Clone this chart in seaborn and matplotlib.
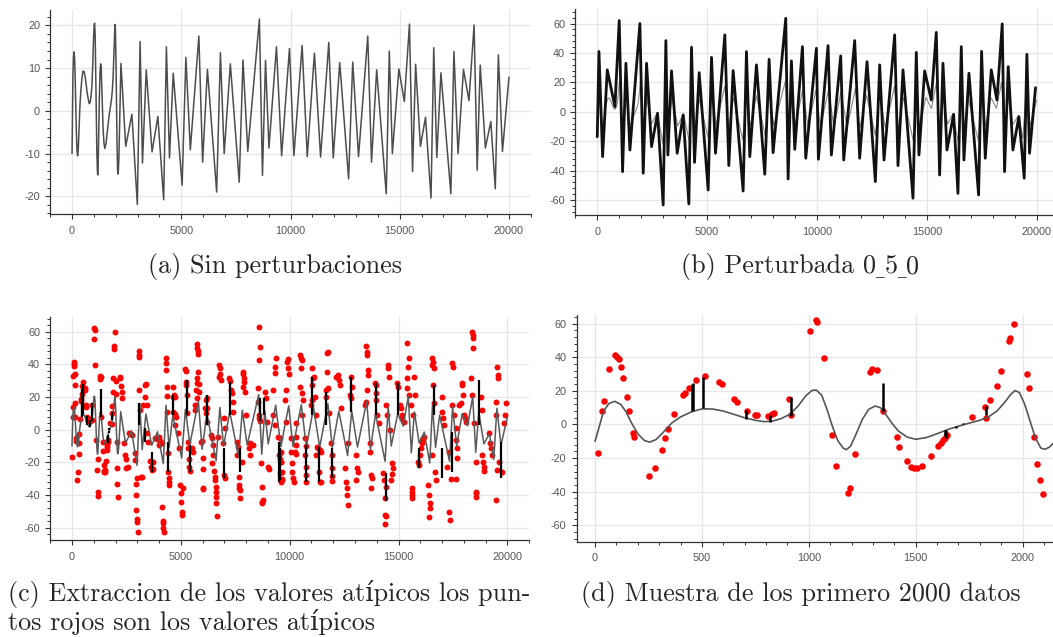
import matplotlib
matplotlib.use("Agg")
import matplotlib.pyplot as plt
import seaborn as sns
from matplotlib.ticker import MultipleLocator

sig_x = [0, 20, 40, 65, 92, 120, 145, 170, 200, 230, 255, 285, 320, 360, 400, 450, 500, 550, 600, 650,
         700, 750, 790, 830, 870, 910, 950, 985, 1015, 1035, 1060, 1085, 1110, 1135, 1160, 1175, 1195, 1220, 1250, 1280,
         1310, 1335, 1360, 1390, 1420, 1460, 1500, 1550, 1600, 1650, 1700, 1750, 1800, 1840, 1880, 1915, 1945, 1965, 1985, 2010,
         2035, 2060, 2085, 2105, 2125, 2145,
         2238, 2457, 2739, 2989, 3114, 3224, 3396, 3662, 3928, 4194, 4319, 4460, 4632, 5039, 5211, 5414, 5805, 5977, 6197, 6620,
         6792, 6964, 7246, 7653, 7825, 8044, 8576, 8716, 8857, 9013, 9358, 9593, 9953, 10156, 10532, 10767, 11095, 11377, 11753, 11956,
         12254, 12660, 12848, 13114, 13537, 13709, 13944, 14382, 14523, 14664, 14961, 15211, 15446, 15587, 15728, 15947, 16181, 16432, 16557, 16698,
         16886, 17340, 17481, 17669, 17919, 18169, 18404, 18545, 18685, 18920, 19170, 19374, 19515, 19703, 20000]
sig_y = [-10, -1, 8, 12.5, 13.8, 12, 7.5, 1, -5.5, -9.5, -10.5, -9, -4.5, 1, 4.5, 7.5, 9.3, 9.2, 8, 6,
         4, 2.5, 1.7, 2, 3.5, 6, 11, 17, 20.3, 20.5, 17.5, 9, -1, -9.5, -14, -15, -13, -6, 3, 9,
         11, 10, 6, 0.5, -4, -7.5, -8.8, -7.8, -5.5, -3, -1, 0.8, 2.5, 4.5, 8, 13, 18, 20.2, 19, 12,
         2, -8, -14, -14.8, -13.5, -11,
         11.1, -8.3, -0.8, -21.9, 16.2, -12.2, 9.6, -9.6, -1.3, -20.8, 15, -11, 8.8, -17.4, 12.5, -9.1, 17.5, -12, 9.7, -19,
         13.6, -10, 11, -16.7, 11.9, -9.5, 21.5, -15.1, 11.8, -8.7, 15, -10.5, 14.6, -10.5, 15.3, -10.7, 13.5, -10.8, 16, -11,
         11.3, -15.9, 11.4, -10.7, 17.5, -12, 9.6, -19.4, 14, -10, 9.8, 2.2, 20.3, -14.2, 10.9, -8.3, -1.5, -20.4, 14.8, -10.9,
         8.9, -19.4, 13.9, -10, 9.7, 2.4, 20.1, -13.9, 10.7, -8.7, -2.5, -18.2, 13.1, -9.5, 7.9]

# --- perturbed series (panel b), extrema of the black band
pert_x = [0, 76, 243, 455, 803, 1000, 1152, 1304, 1486, 1940, 2092, 2244, 2471, 2744, 3000, 3123, 3214, 3380, 3638, 3911,
          4169, 4290, 4427, 4639, 5048, 5200, 5382, 5806, 5988, 6185, 6640, 6791, 6943, 7246, 7625, 7822, 8004, 8580, 8687, 8838,
          8990, 9339, 9490, 9975, 10066, 10506, 10657, 11081, 11218, 11718, 11945, 12280, 12658, 12855, 13053, 13537, 13689, 13917, 14372, 14523,
          14644, 14902, 15205, 15432, 15584, 15736, 15918, 16221, 16418, 16570, 16691, 16918, 17358, 17494, 17661, 17934, 18192, 18434, 18540, 18707,
          18920, 19193, 19435, 19556, 19677, 19950]
pert_y = [-17, 41, -30.5, 28.5, 3.5, 62, -40.7, 33, -26, 60, -41.8, 33, -23.7, -1, -63.4, 48.4, -29.4, 27.8, -28.2, -2.2,
          -62.7, 43.9, -34.4, 26.6, -53.2, 37, -28.2, 52.3, -36.6, 28, -53.9, 40.9, -30.5, 31.9, -42.5, 35.7, -27.8, 63.6, -45.7, 34.6,
          -25.5, 44.3, -31.6, 43.2, -32.3, 45, -29.4, 38, -32.8, 48.4, -31.6, 34.1, -47.5, 31.9, -32.8, 52.3, -36.6, 28.5, -58.8, 40.4,
          -29.4, 27.8, 8, 54, -43, 33, -26, -1.7, -55.5, 44.3, -32.8, 26.2, -56.6, 41.1, -31.6, 28.5, 8, 59.8, -40.7, 30.7,
          -26, -3.3, -45.2, 39.1, -28.2, 16.4]

# --- perturbations kept (black spikes): x, from, to
spike_x = [452, 460, 507, 706, 820, 915, 1345, 1637, 1643, 1688, 1723, 1829,
           3093, 3368, 3690, 4425, 4654, 5267, 5420, 6185, 6982, 7257, 7716, 8635, 8820, 9554,
           9510, 10735, 11041, 11347, 11684, 11960, 12802, 13950, 14409, 14991, 15940, 16629, 17012, 17471, 18696, 19690]
spike_y0 = [8, 8.5, 9.6, 3, 1.7, 5.3, 8, -3, -3, -1, 0, 5.7,
            2.9, 0.8, -13.4, -7.3, 9, 9, -9.4, 2.9, -11.4, 9, -11.4, 5, 9, -11.4,
            -7.3, -9.4, 9, -10.4, 2.9, -11.4, 11, 9, -26.7, 9, -11.4, 9, -11.4, -1.2, 2.9, -7.3]
spike_y1 = [24, 25, 28, 8.6, 5.7, 16.6, 25, -7, -8, -1.8, 0.8, 11,
            16.2, -7.3, -25.7, -25.7, 21.2, 30.4, -25.7, 21.2, -29.8, 29.4, -25.7, 19.2, 19.2, -30.8,
            -31.8, -31.8, 32.5, -31.8, 23.3, -29.8, 32.5, 28.4, -44, 28.4, -23.6, 27.4, -29.8, -25.7, 30.4, -29.8]

# --- outliers (red points), (x, y)
outliers = [
    (12, -17), (34, 7.8), (41, 13.8), (65, 32.8), (95, 41.2), (104, 40), (111, 38.8), (120, 34.4), (131, 27.5), (148, 16.2),
    (159, 7.8), (178, -4.9), (181, -7.2), (253, -30.7), (281, -26.1), (312, -15), (329, -8.2), (343, -2.7), (369, 6.4), (413, 17.4),
    (419, 18.6), (440, 21.9), (474, 26.5), (516, 28.9), (582, 25.5), (592, 24.1), (652, 15.2), (663, 13.6), (711, 8), (750, 5.7),
    (759, 5.5), (808, 5.3), (828, 6), (839, 6.6), (909, 15.2), (917, 5.7), (1006, 55.5), (1032, 62), (1040, 61), (1069, 39.8),
    (1108, -6.1), (1127, -24.5), (1185, -40.8), (1193, -38), (1218, -17.8), (1286, 31.2), (1297, 33), (1317, 32.4), (1345, 8), (1411, -7.6),
    (1423, -13.2), (1458, -21.9), (1478, -25.1), (1492, -26.1), (1504, -26.1), (1528, -24.7), (1571, -18.9), (1604, -12.6), (1617, -10.8), (1626, -9.2),
    (1635, -7.8), (1645, -6.4), (1765, 4.3), (1822, 10.4), (1830, 3.7), (1847, 14.6), (1879, 22.9), (1900, 31.8), (1936, 49.7), (1943, 51.3),
    (1961, 59.6), (2020, 30), (2028, 21.7), (2053, -7.4), (2069, -23.7), (2081, -33), (2097, -41.2),
    (2205, 32.5), (2220, 31.5), (2251, 26.8), (2297, 22.9), (2320, 19.2), (2389, -8.3), (2450, -15.5), (2480, -18), (2572, -22.6), (2465, -23.6),
    (2633, -2.2), (2695, -2.6), (2741, -3.2), (2878, -14.5), (2894, -18.5), (2940, -33.4), (2945, -40), (2950, -49.2), (2970, -54.7), (3001, -56.7),
    (3010, -62.4), (3000, -29.4), (3062, 48.2), (3093, 45.7), (3095, 44.7), (3062, 24.3), (3123, 12), (3185, -28.8), (3215, -28.8), (3338, 27.4),
    (3399, 27.8), (3368, 20.2), (3430, 15.1), (3246, 15.1), (3460, -2.2), (3506, -7.3), (3583, -19.2), (3613, -22.6), (3675, -24.7), (3705, -19.6),
    (3736, -24), (3797, -4.9), (3889, -5.7), (3920, -4.9), (3981, -4.3), (4042, -6.9), (4011, -9.4), (4149, -47.1), (4164, -55.9), (4180, -57.3),
    (4195, -60), (4226, -62.4), (4134, -8.3), (4302, 43.7), (4318, 41), (4318, 36.6), (4348, 26.3), (4363, 20.6), (4348, 11), (4425, -14.5),
    (4425, -25.7), (4471, -29.8), (4471, -31.8), (4455, -33.8), (4624, 26.3), (4685, 21.2), (4654, 20.2), (4731, 20.2), (4654, 11), (4746, 9.4),
    (4777, 8), (4731, 2.9), (4884, -2.2), (4930, -11.4), (4961, -34), (4991, -39), (5007, -44.5), (5037, -50.2), (5052, -52.2), (5114, -35.9),
    (5206, 37.2), (5221, 36), (5236, 29.4), (5221, 27.4), (5267, 10), (5282, 21.2), (5343, -7.3), (5343, -11.4), (5389, -18), (5359, -22.6),
    (5420, -25.3), (5496, -11.4), (5542, -13.4), (5726, 52.3), (5757, 49.8), (5803, 48.2), (5803, 46.1), (5772, 35.5), (5726, 31.5), (5757, 28.4),
    (5695, 24.3), (5726, 19.2), (5665, 15.1), (5634, 12), (5849, 27.8), (5818, 23.3), (5956, -6.9), (6002, -17.5), (6033, -24), (6002, -35.5),
    (6033, -36.3), (5910, -7.3), (6124, 13.5), (6185, 13.1), (6155, 10), (6216, 4.9), (6185, 19.2), (6155, 18.2), (6369, -3.2), (6415, -5.3),
    (6461, -9.4), (6461, -15.5), (6415, -20.6), (6522, -25.3), (6568, -28.8), (6583, -30.8), (6599, -34.9), (6614, -38), (6614, -41), (6614, -45.1),
    (6645, -53.2), (6737, 39.6), (6783, 37.6), (6798, 33.9), (6767, 32.5), (6828, 30.4), (6706, -4.3), (6982, 7), (7027, 0.8), (6951, -8.3),
    (6982, -27.7), (7012, -29.8), (7226, 31.9), (7257, 29.8), (7303, 24.3), (7333, 22.3), (7380, 17.2), (7410, 11), (7563, -7.3), (7640, -10.4),
    (7594, -15.5), (7655, -33.8), (7686, -35.9), (7716, -36.9), (7716, -42), (7655, -28.8), (7793, -19.6), (7839, 35.5), (7870, 33.9), (7885, 31.5),
    (7900, 29.4), (7839, 26.3), (7961, 22.9), (7992, 9), (8114, -11.4), (8176, -8.3), (8176, -15.5), (8298, -9.4), (8604, 63.1), (8635, 50.4),
    (8574, 42.7), (8543, 25.7), (8558, 16.8), (8604, 9), (8574, 7), (8635, 5.3), (8681, -20.6), (8712, -34.9), (8757, -43), (8742, -44.5),
    (8727, -45.1), (8865, 23.3), (8911, 19.2), (8972, 4.9), (9018, -22.6), (9064, -24), (9370, 44.1), (9339, 38.6), (9324, 34.5), (9247, 24.3),
    (9217, 9), (9324, 2.9), (9477, -4.3), (9508, -15.5), (9554, -18), (9584, -19.6), (9554, -26.7), (9630, -30.8), (9615, -31.8),
    (9541, -5.3), (9587, -13.4), (9587, -19.6), (9632, -25.7), (9632, -30.2), (9816, 24.3), (9786, 18.2), (9893, 41.7), (9939, 43.3), (9939, 37.6),
    (9969, 33.9), (9847, 4.9), (10046, -5.3), (10046, -13.4), (10092, -20.6), (10122, -25.7), (10153, -29.8), (10184, -31.8), (10276, 3.9), (10306, -4.3),
    (10276, -9.4), (10245, -13.8), (10306, -15.1), (10459, 45.7), (10505, 43.7), (10551, 42.7), (10505, 37.6), (10459, 26.3), (10582, 22.3), (10612, 18.2),
    (10551, 9), (10704, -5.3), (10735, -9.8), (10704, -15.5), (10735, -22.6), (10765, -27.7), (10735, -31.8), (11041, 37.6), (11087, 31.5), (11118, 32.5),
    (11041, 27.4), (11010, 18.2), (10964, 15.1), (11163, 20.2), (11194, 9), (11271, -10.4), (11317, -11.4), (11378, -12.4), (11424, -13.4), (11347, -25.7),
    (11393, -31.8), (11424, -32.2), (11225, -15.5), (11699, 46.8), (11761, 47.8), (11730, 35.5), (11653, 24.3), (11776, 25.3), (11684, 20.2), (11807, 10),
    (11883, -8.3), (11960, -15.5), (11929, -23.6), (11960, -28.1), (11929, -31.2), (12143, 32.5), (12235, 33.5), (12266, 30.4), (12296, 27.4), (12342, 13.1),
    (12541, -23.6), (12603, -31.8), (12618, -35.9), (12649, -40), (12679, -46.1), (12695, -8.3), (12756, 21.2), (12802, 19.2), (12848, 26.3), (12802, 32.5),
    (13031, -15.5), (13093, -23.6), (13123, -25.7), (13062, -30.8), (13521, 51.5), (13552, 47.4), (13537, 45.7), (13613, 36.6), (13582, 33.5), (13552, 24.3),
    (13521, 17.2), (13460, 15.1), (13674, -8.3), (13705, -13.4), (13736, -27.7), (13766, -29.8), (13720, -35.9), (13919, 28.4), (13950, 27.4), (13981, 22.3),
    (13981, 18.2), (14026, 9), (14103, 3.9), (14287, -26.7), (14348, -30.8), (14409, -34.9), (14379, -42), (14379, -52.2), (14409, -52.6), (14379, -57.9),
    (14501, 39.6), (14532, 37.6), (14562, 32.5), (14440, 15.1), (14470, 9), (14593, 0), (14715, -20.6), (14746, -23.6), (14685, -27.3), (14639, -30.8),
    (14945, 28.4), (14991, 26.3), (15052, 15), (15098, 13.1), (15144, 9), (15175, 7), (15251, 4.9), (15404, 52.9), (15481, 43.7), (15420, 38.6),
    (15374, 31.5), (15389, 25.3), (15481, 21.2), (15557, 15.1), (15603, -35.9), (15634, -38), (15603, -40), (15634, -42), (15710, 32.5), (15756, 21.2),
    (15665, 9), (15910, -19.6), (15971, -15.5), (16017, -11.4), (16063, -8.3), (16093, -6.3), (16124, -5.3), (16170, -4.3), (15940, -21.6), (16369, -33.9),
    (16400, -40), (16430, -45.1), (16446, -48.1), (16400, -53.6), (16522, -15.5), (16553, 43.7), (16583, 41.7), (16553, 39.6), (16629, 37.6), (16599, 27.4),
    (16629, 16.2), (16675, -25.7), (16706, -30.8), (16981, 20.2), (17012, 11), (17043, 7), (17088, 2.9), (17318, -50.2), (17348, -55.3), (17318, -13.4),
    (17241, -22.6), (17395, -30.2), (17471, 40.6), (17501, 38.6), (17471, 15.1), (17547, 9), (17624, 0.9), (17655, -6.3), (17701, -11.4), (17701, -17.5),
    (17624, -30.2), (17900, 28.4), (17931, 27.4), (17961, 21.2), (17854, 16.2), (18007, 9), (18053, 7), (18084, 4.9), (17777, 15), (18390, 60),
    (18420, 58), (18436, 56), (18420, 49.8), (18313, 31.5), (18390, 21.2), (18466, 3.9), (18543, -19.6), (18574, -38), (18543, -39), (18574, -41),
    (18773, 20.2), (18818, 12), (18849, -15.5), (18880, -19.6), (18910, -22.6), (18941, -25.3), (19155, -2.2), (19186, -8.3), (19247, -11.4), (19278, -15.5),
    (19462, -43), (19538, 38.6), (19553, 33.5), (19584, 31.5), (19492, 17.2), (19462, 9), (19538, -24.7), (19615, -19.6), (19737, -25.7), (19844, 3.9),
    (19890, 9), (19921, 16.2),
]
out_x = [p[0] for p in outliers]
out_y = [p[1] for p in outliers]

cap_a = "(a) Sin perturbaciones"
cap_b = ["(b) Perturbada 0", "_", "5", "_", "0"]
cap_c = ["(c) Extraccion de los valores atípicos los pun-", "tos rojos son los valores atípicos"]
cap_d = "(d) Muestra de los primero 2000 datos"

sns.set_theme(style="white")
plt.rcParams['font.family'] = ['Liberation Sans', 'DejaVu Sans']
plt.rcParams['axes.unicode_minus'] = False

W, H = 1053, 637
fig = plt.figure(figsize=(W / 100, H / 100), dpi=100)


def px_axes(l, t, r, b):
    return fig.add_axes([l / W, 1 - b / H, (r - l) / W, (b - t) / H])


def bokeh_style(ax, xlim, ylim, xmaj, xmin, ymaj, ymin):
    ax.set_xlim(*xlim)
    ax.set_ylim(*ylim)
    ax.xaxis.set_major_locator(MultipleLocator(xmaj))
    ax.xaxis.set_minor_locator(MultipleLocator(xmin))
    ax.yaxis.set_major_locator(MultipleLocator(ymaj))
    ax.yaxis.set_minor_locator(MultipleLocator(ymin))
    ax.grid(True, which='major', color='#e6e6e6', lw=0.9)
    ax.set_axisbelow(True)
    for s in ['top', 'right']:
        ax.spines[s].set_visible(False)
    for s in ['left', 'bottom']:
        ax.spines[s].set_color('#333333')
        ax.spines[s].set_linewidth(0.9)
    ax.tick_params(which='both', bottom=True, left=True, direction='out', color='#333333')
    ax.tick_params(which='major', length=3.8, width=0.8, labelsize=7.8, labelcolor='#555555')
    ax.tick_params(which='minor', length=2.2, width=0.7)
    ax.tick_params(axis='x', which='major', pad=4.5)
    ax.tick_params(axis='y', which='major', pad=3.5)
    ax.set(xlabel=None, ylabel=None)


# (a) original signal
ax_a = px_axes(50.2, 10, 530.8, 214.3)
sns.lineplot(x=sig_x, y=sig_y, ax=ax_a, color='#4d4d4d', linewidth=1.1, estimator=None, sort=False)
bokeh_style(ax_a, (-1000, 21000), (-24.2, 23.6), 5000, 1000, 10, 2)

# (b) perturbed signal
ax_b = px_axes(575.3, 9.3, 1058.6, 215)
sns.lineplot(x=sig_x, y=sig_y, ax=ax_b, color='#888888', linewidth=0.8, estimator=None, sort=False)
sns.lineplot(x=pert_x, y=pert_y, ax=ax_b, color='#111111', linewidth=2.0, estimator=None, sort=False)
bokeh_style(ax_b, (-1000, 21000), (-70.2, 69.7), 5000, 1000, 20, 4)

# (c) outliers over the full series
ax_c = px_axes(50.2, 316.7, 529.2, 540)
sns.lineplot(x=sig_x, y=sig_y, ax=ax_c, color='#5a5a5a', linewidth=1.1, estimator=None, sort=False)
ax_c.vlines(spike_x, spike_y0, spike_y1, color='black', linewidth=1.6)
sns.scatterplot(x=out_x, y=out_y, ax=ax_c, color='#ff0000', s=18, linewidth=0)
bokeh_style(ax_c, (-1000, 21000), (-67.6, 69.2), 5000, 1000, 20, 4)

# (d) first 2000 samples
xmax_d = 2160
ax_d = px_axes(576.7, 315, 1056.8, 541.7)
sx = [x for x in sig_x if x <= xmax_d]
sns.lineplot(x=sx, y=sig_y[:len(sx)], ax=ax_d, color='#555555', linewidth=1.2, estimator=None, sort=False)
keep = [i for i, x in enumerate(spike_x) if x <= xmax_d]
ax_d.vlines([spike_x[i] for i in keep], [spike_y0[i] for i in keep], [spike_y1[i] for i in keep],
            color='black', linewidth=1.8)
ox = [x for x in out_x if x <= xmax_d]
oy = [y for x, y in zip(out_x, out_y) if x <= xmax_d]
sns.scatterplot(x=ox, y=oy, ax=ax_d, color='#ff0000', s=22, linewidth=0)
bokeh_style(ax_d, (-86, xmax_d), (-69.8, 65.2), 500, 100, 20, 4)

# captions (serif, LaTeX-like)
CM = ['cmr10', 'DejaVu Serif']
cap_size = 18.8


def caption(x, y_base, text, ha='left'):
    fig.text(x / W, 1 - y_base / H, text, ha=ha, va='baseline', family=CM, size=cap_size)


caption(275, 273.3, cap_a, ha='center')
caption(801, 601.5, cap_d, ha='center')
caption(8, 601.5, cap_c[0])
caption(8, 630, cap_c[1])

# "0_5_0": underscores from a font that really has them, a bit narrower like LaTeX's \_
renderer = fig.canvas.get_renderer()
parts = []
for s in cap_b:
    if s == "_":
        parts.append(fig.text(0, 1 - 274.5 / H, s, va='baseline', family=['DejaVu Serif'], size=12.5))
    else:
        parts.append(fig.text(0, 1 - 273.3 / H, s, va='baseline', family=CM, size=cap_size))
widths = [t.get_window_extent(renderer).width for t in parts]
x0 = 800 - sum(widths) / 2
for t, w in zip(parts, widths):
    t.set_x(x0 / W)
    x0 += w

fig.savefig("out.png", dpi=100)
